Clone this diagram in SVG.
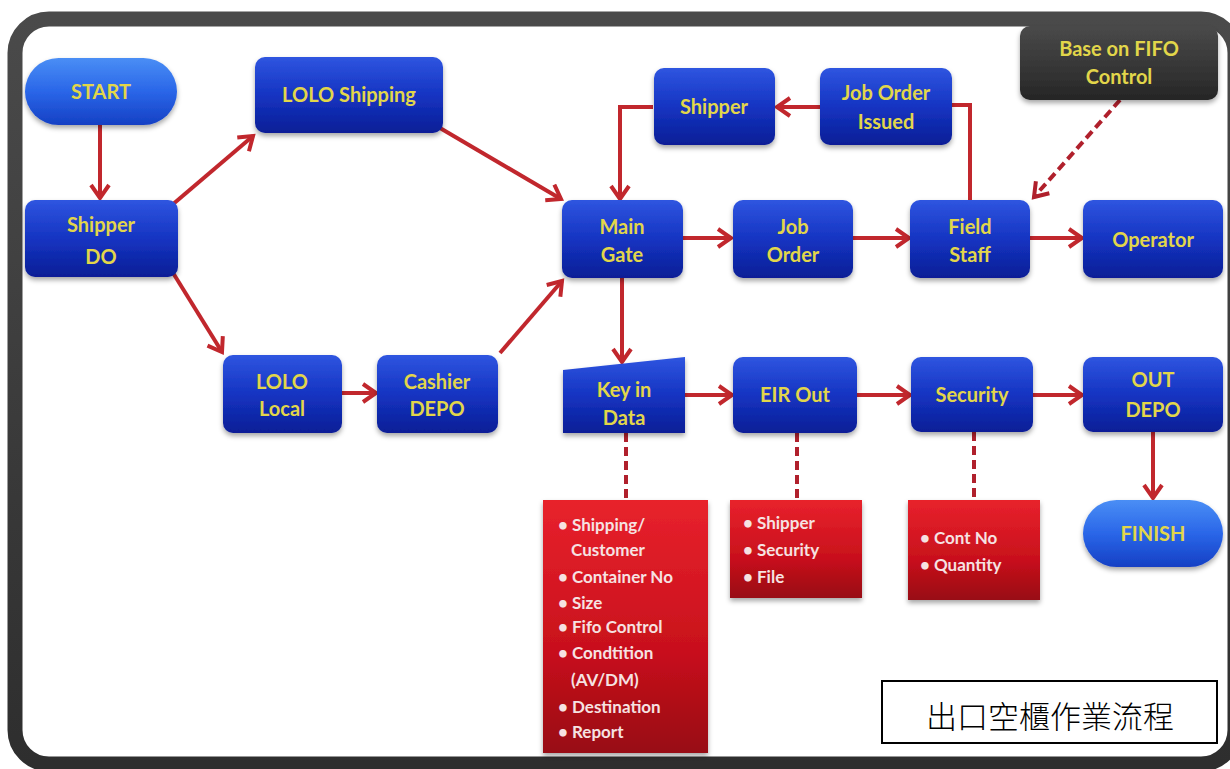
<svg xmlns="http://www.w3.org/2000/svg" width="1230" height="769" viewBox="0 0 1230 769">
<defs>
  <linearGradient id="gBlue" x1="0" y1="0" x2="0" y2="1">
    <stop offset="0" stop-color="#2f55e0"/>
    <stop offset="0.5" stop-color="#1534c2"/>
    <stop offset="1" stop-color="#0a1e96"/>
  </linearGradient>
  <linearGradient id="gPill" x1="0" y1="0" x2="0" y2="1">
    <stop offset="0" stop-color="#4a8ef5"/>
    <stop offset="0.5" stop-color="#2a66e8"/>
    <stop offset="1" stop-color="#1540c4"/>
  </linearGradient>
  <linearGradient id="gDark" x1="0" y1="0" x2="0" y2="1">
    <stop offset="0" stop-color="#4a4a4a"/>
    <stop offset="1" stop-color="#262626"/>
  </linearGradient>
  <linearGradient id="gRed" x1="0" y1="0" x2="0" y2="1">
    <stop offset="0" stop-color="#e8222c"/>
    <stop offset="0.6" stop-color="#c8101c"/>
    <stop offset="1" stop-color="#980812"/>
  </linearGradient>
  <linearGradient id="gFrame" x1="0" y1="0" x2="0" y2="1">
    <stop offset="0" stop-color="#4a4a4a"/>
    <stop offset="1" stop-color="#2e2e2e"/>
  </linearGradient>
  <filter id="sh" x="-10%" y="-10%" width="120%" height="130%">
    <feDropShadow dx="0" dy="3" stdDeviation="2.5" flood-color="#000" flood-opacity="0.35"/>
  </filter>
  <marker id="arr" viewBox="0 0 22 22" refX="16" refY="11" markerWidth="22" markerHeight="22" markerUnits="userSpaceOnUse" orient="auto">
    <path d="M3,2 L16,11 L3,20" fill="none" stroke="#c1272d" stroke-width="4" stroke-linejoin="miter"/>
  </marker>
  <marker id="arrD" viewBox="0 0 22 22" refX="16" refY="11" markerWidth="22" markerHeight="22" markerUnits="userSpaceOnUse" orient="auto">
    <path d="M3,2 L16,11 L3,20" fill="none" stroke="#b0202c" stroke-width="4"/>
  </marker>
  <style>
    .node{fill:url(#gBlue);filter:url(#sh)}
    .pill{fill:url(#gPill);filter:url(#sh)}
    .dark{fill:url(#gDark);filter:url(#sh)}
    .list{fill:url(#gRed);filter:url(#sh)}
    .t{font-family:Lato,"Liberation Sans",sans-serif;font-weight:bold;font-size:20px;fill:#e2d64a;text-anchor:middle}
    .l{font-family:Lato,"Liberation Sans",sans-serif;font-weight:bold;font-size:17px;fill:#f6e2e2}
    .c{fill:none;stroke:#c1272d;stroke-width:4}
    .d{fill:none;stroke:#b0202c;stroke-width:4;stroke-dasharray:9,5}
  </style>
</defs>
<rect x="0" y="0" width="1230" height="769" fill="#ffffff"/>
<g id="frame">
  <rect x="15" y="19" width="1220" height="745" rx="34" ry="34" fill="#ffffff" stroke="url(#gFrame)" stroke-width="15"/>
</g>
<g id="connectors">
  <path class="c" d="M100,125 L100,198" marker-end="url(#arr)"/>
  <path class="c" d="M172,205 L253,136" marker-end="url(#arr)"/>
  <path class="c" d="M440,128 L561,199" marker-end="url(#arr)"/>
  <path class="c" d="M170,268 L222,352" marker-end="url(#arr)"/>
  <path class="c" d="M342,393 L376,393" marker-end="url(#arr)"/>
  <path class="c" d="M500,353 L562,281" marker-end="url(#arr)"/>
  <path class="c" d="M653,107 L620,107 L620,199" marker-end="url(#arr)"/>
  <path class="c" d="M820,107 L777,107" marker-end="url(#arr)"/>
  <path class="c" d="M970,200 L970,105 L952,105"/>
  <path class="c" d="M683,238 L731,238" marker-end="url(#arr)"/>
  <path class="c" d="M853,238 L909,238" marker-end="url(#arr)"/>
  <path class="c" d="M1030,238 L1082,238" marker-end="url(#arr)"/>
  <path class="d" d="M1120,100 L1034,197" marker-end="url(#arrD)"/>
  <path class="c" d="M622,278 L622,362" marker-end="url(#arr)"/>
  <path class="c" d="M685,395 L732,395" marker-end="url(#arr)"/>
  <path class="c" d="M857,395 L910,395" marker-end="url(#arr)"/>
  <path class="c" d="M1033,395 L1082,395" marker-end="url(#arr)"/>
  <path class="c" d="M1153,432 L1153,498" marker-end="url(#arr)"/>
  <path class="d" d="M626,433 L626,500"/>
  <path class="d" d="M797,433 L797,500"/>
  <path class="d" d="M974,432 L974,500"/>
</g>
<g id="start">
  <rect class="pill" x="25" y="58" width="152" height="67" rx="33.5"/>
  <text class="t" x="101" y="99" font-size="21">START</text>
</g>
<g id="shipper-do">
  <rect class="node" x="25" y="200" width="153" height="77" rx="10"/>
  <text class="t" x="101" y="232">Shipper</text>
  <text class="t" x="101" y="264">DO</text>
</g>
<g id="lolo-shipping">
  <rect class="node" x="255" y="57" width="188" height="76" rx="10"/>
  <text class="t" x="349" y="102">LOLO Shipping</text>
</g>
<g id="lolo-local">
  <rect class="node" x="223" y="355" width="119" height="78" rx="10"/>
  <text class="t" x="282" y="389">LOLO</text>
  <text class="t" x="282" y="416">Local</text>
</g>
<g id="cashier-depo">
  <rect class="node" x="377" y="355" width="121" height="78" rx="10"/>
  <text class="t" x="437" y="389">Cashier</text>
  <text class="t" x="437" y="416">DEPO</text>
</g>
<g id="main-gate">
  <rect class="node" x="562" y="200" width="121" height="78" rx="10"/>
  <text class="t" x="622" y="234">Main</text>
  <text class="t" x="622" y="262">Gate</text>
</g>
<g id="shipper">
  <rect class="node" x="654" y="68" width="121" height="77" rx="10"/>
  <text class="t" x="714" y="114">Shipper</text>
</g>
<g id="job-order-issued">
  <rect class="node" x="820" y="68" width="132" height="77" rx="10"/>
  <text class="t" x="886" y="100">Job Order</text>
  <text class="t" x="886" y="129">Issued</text>
</g>
<g id="base-fifo">
  <rect class="dark" x="1020" y="26" width="198" height="74" rx="10"/>
  <text class="t" x="1119" y="56">Base on FIFO</text>
  <text class="t" x="1119" y="84">Control</text>
</g>
<g id="job-order">
  <rect class="node" x="733" y="200" width="120" height="78" rx="10"/>
  <text class="t" x="793" y="234">Job</text>
  <text class="t" x="793" y="262">Order</text>
</g>
<g id="field-staff">
  <rect class="node" x="910" y="200" width="120" height="78" rx="10"/>
  <text class="t" x="970" y="234">Field</text>
  <text class="t" x="970" y="262">Staff</text>
</g>
<g id="operator">
  <rect class="node" x="1083" y="200" width="140" height="78" rx="10"/>
  <text class="t" x="1153" y="247">Operator</text>
</g>
<g id="key-in-data">
  <path class="node" d="M563,370 L685,357 L685,433 L563,433 Z"/>
  <text class="t" x="624" y="397">Key in</text>
  <text class="t" x="624" y="425">Data</text>
</g>
<g id="eir-out">
  <rect class="node" x="733" y="357" width="124" height="76" rx="10"/>
  <text class="t" x="795" y="402">EIR Out</text>
</g>
<g id="security">
  <rect class="node" x="911" y="357" width="122" height="75" rx="10"/>
  <text class="t" x="972" y="402">Security</text>
</g>
<g id="out-depo">
  <rect class="node" x="1083" y="357" width="140" height="75" rx="10"/>
  <text class="t" x="1153" y="387">OUT</text>
  <text class="t" x="1153" y="417">DEPO</text>
</g>
<g id="finish">
  <rect class="pill" x="1083" y="500" width="140" height="67" rx="33.5"/>
  <text class="t" x="1153" y="541" font-size="21">FINISH</text>
</g>
<g id="key-list">
  <rect class="list" x="543" y="500" width="165" height="253"/>
  <text class="l" x="558" y="531">• Shipping/</text>
  <text class="l" x="571" y="556">Customer</text>
  <text class="l" x="558" y="583">• Container No</text>
  <text class="l" x="558" y="609">• Size</text>
  <text class="l" x="558" y="633">• Fifo Control</text>
  <text class="l" x="558" y="659">• Condtition</text>
  <text class="l" x="571" y="686">(AV/DM)</text>
  <text class="l" x="558" y="713">• Destination</text>
  <text class="l" x="558" y="738">• Report</text>
</g>
<g id="eir-list">
  <rect class="list" x="730" y="500" width="132" height="98"/>
  <text class="l" x="743" y="529">• Shipper</text>
  <text class="l" x="743" y="556">• Security</text>
  <text class="l" x="743" y="583">• File</text>
</g>
<g id="security-list">
  <rect class="list" x="908" y="500" width="132" height="100"/>
  <text class="l" x="920" y="544">• Cont No</text>
  <text class="l" x="920" y="571">• Quantity</text>
</g>
<g id="title">
  <rect x="882" y="681" width="335" height="62" fill="#ffffff" stroke="#000000" stroke-width="2"/>
  <text x="1050" y="728" text-anchor="middle" font-family="'Noto Sans CJK TC','Noto Sans CJK SC',sans-serif" font-size="31" font-weight="300" fill="#000">出口空櫃作業流程</text>
</g>
</svg>
